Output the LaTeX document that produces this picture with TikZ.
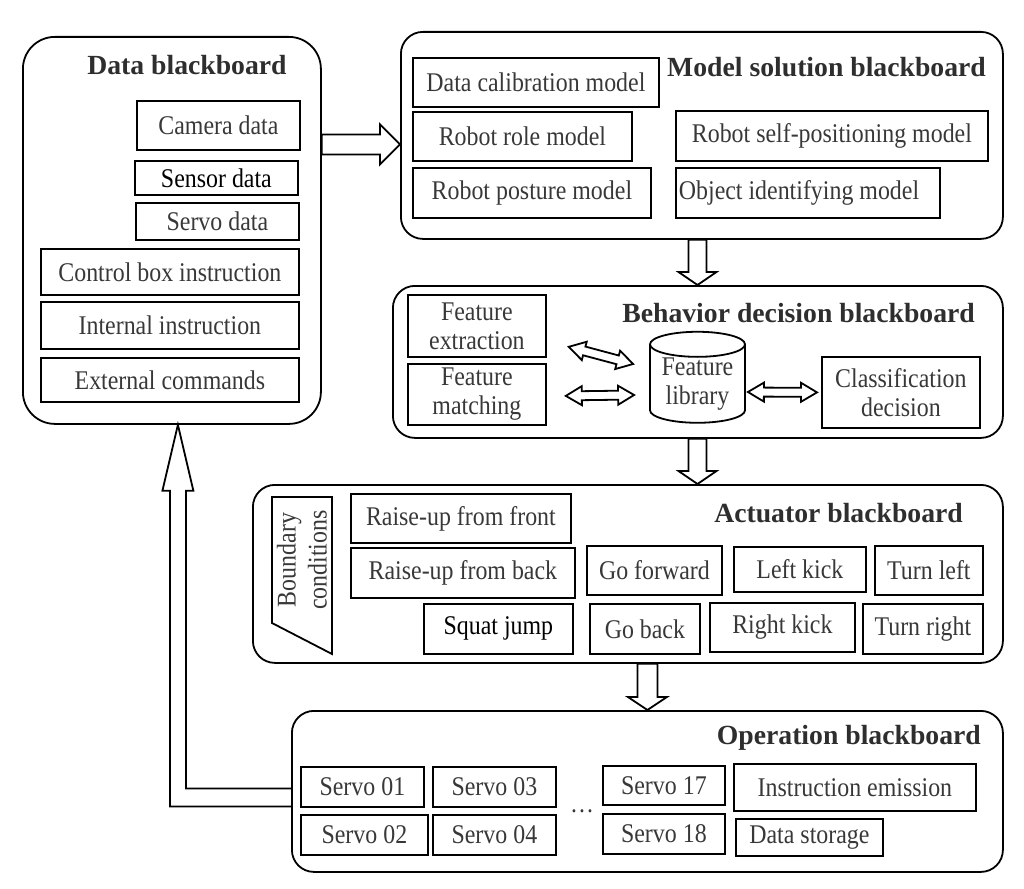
\documentclass[tikz,border=0pt]{standalone}
\usepackage{fontspec}
\setmainfont{Liberation Serif}[FakeStretch=0.885]
\newfontfamily\titlefont{Liberation Serif}
\usetikzlibrary{calc,shapes.geometric}
\colorlet{txtgray}{black!78}
\colorlet{titlegray}{black!82}

\newcommand{\hollowarrow}[5]{%
  \draw[arrowline] ($(#4)!#1!90:(#5)$) -- ($(#5)!#3!(#4)!#1!-90:(#4)$)
    -- ($(#5)!#3!(#4)!#2!-90:(#4)$) -- (#5)
    -- ($(#5)!#3!(#4)!#2!90:(#4)$) -- ($(#5)!#3!(#4)!#1!90:(#4)$)
    -- ($(#4)!#1!-90:(#5)$) -- cycle;}
\newcommand{\hollowdarrow}[5]{%
  \draw[arrowline] (#4) -- ($(#4)!#3!(#5)!#2!90:(#5)$) -- ($(#4)!#3!(#5)!#1!90:(#5)$)
    -- ($(#5)!#3!(#4)!#1!-90:(#4)$) -- ($(#5)!#3!(#4)!#2!-90:(#4)$) -- (#5)
    -- ($(#5)!#3!(#4)!#2!90:(#4)$) -- ($(#5)!#3!(#4)!#1!90:(#4)$)
    -- ($(#4)!#3!(#5)!#1!-90:(#5)$) -- ($(#4)!#3!(#5)!#2!-90:(#5)$) -- cycle;}

\begin{document}
\begin{tikzpicture}[x=1pt,y=-1pt,
    board/.style={draw,line width=1.8pt,rounded corners=22pt,anchor=north west,inner sep=0pt},
    box/.style={draw,line width=1.8pt,anchor=north west,inner sep=2pt,text=txtgray,align=center,font=\fontsize{27}{29}\selectfont},
    title/.style={text=titlegray,inner sep=0pt,font=\titlefont\bfseries\fontsize{27.7}{30}\selectfont},
    plain/.style={text=txtgray,inner sep=0pt,align=center,font=\fontsize{27}{31}\selectfont},
    arrowline/.style={draw,line width=1.8pt,fill=white}]
    \useasboundingbox (0,0) rectangle (1024,888);

    % Datentafel
    \node[board,rounded corners=32pt,minimum width=298,minimum height=387] (db) at (22,36) {};
    \node[title] (dbt) at (187,65) {Data blackboard};
    \node[box,minimum width=163,minimum height=49] (cam) at (136,100) {Camera data};
    \node[box,minimum width=163,minimum height=34,text=black] (sen) at (134,160) {Sensor data};
    \node[box,minimum width=163,minimum height=37] (srv) at (135,202) {Servo data};
    \node[box,minimum width=258,minimum height=46] (ctl) at (40,248) {Control box instruction};
    \node[box,minimum width=258,minimum height=47] (int) at (40,301) {Internal instruction};
    \node[box,minimum width=258,minimum height=44] (ext) at (40,357) {External commands};

    % Modelltafel
    \node[board,minimum width=602,minimum height=207] (mb) at (400,31) {};
    \node[title,anchor=east] (mbt) at (986,67) {Model solution blackboard};
    \node[box,minimum width=246,minimum height=49] (dcal) at (412,57) {Data calibration model};
    \node[box,minimum width=219,minimum height=49] (role) at (412,111) {Robot role model};
    \node[box,minimum width=238,minimum height=50] (post) at (412,167) {Robot posture model};
    \node[box,minimum width=312,minimum height=50] (selfp) at (675,110) {Robot self-positioning model};
    \node[box,minimum width=264,minimum height=50] (obj) at (675,167) {\makebox[258pt][l]{Object identifying model}};

    % Entscheidungstafel
    \node[board,minimum width=610,minimum height=152] (bb) at (392,285) {};
    \node[title,anchor=east] (bbt) at (975,313) {Behavior decision blackboard};
    \node[box,minimum width=138,minimum height=62] (fext) at (407,294) {Feature\\extraction};
    \node[box,minimum width=138,minimum height=61] (fmat) at (407,363) {Feature\\matching};
    \node[box,anchor=center,cylinder,shape border rotate=90,aspect=0.35,inner sep=0pt,minimum width=95,minimum height=87] (flib) at (697.5,384) {Feature\\library};
    \node[box,minimum width=158,minimum height=71] (cls) at (821,356) {Classification\\decision};

    % Aktortafel
    \node[board,minimum width=750,minimum height=178] (ab) at (252,484) {};
    \node[title,anchor=east] (abt) at (963,513) {Actuator blackboard};
    \draw[line width=1.8pt] (272,497) -- (332,497) -- (332,654) -- (272,623) -- cycle;
    \node[plain,rotate=90] (bound) at (302,560) {Boundary\\conditions};
    \node[box,minimum width=220,minimum height=49] (rfront) at (350,493) {Raise-up from front};
    \node[box,minimum width=224,minimum height=50] (rback) at (350,547) {Raise-up from back};
    \node[box,minimum width=149,minimum height=50,text=black] (squat) at (423,603) {Squat jump};
    \node[box,minimum width=135,minimum height=49] (gofw) at (586,545) {Go forward};
    \node[box,minimum width=110,minimum height=50] (gobk) at (589,603) {Go back};
    \node[box,minimum width=132,minimum height=45] (lkick) at (733,546) {Left kick};
    \node[box,minimum width=145,minimum height=49] (rkick) at (709,602) {Right kick};
    \node[box,minimum width=108,minimum height=49] (tleft) at (874,545) {Turn left};
    \node[box,minimum width=120,minimum height=50] (tright) at (862,603) {Turn right};

    % Operationstafel
    \node[board,minimum width=711,minimum height=161] (ob) at (291,710) {};
    \node[title,anchor=east] (obt) at (981,738) {Operation blackboard};
    \node[box,minimum width=123,minimum height=40] (s01) at (300,766) {Servo 01};
    \node[box,minimum width=127,minimum height=40] (s02) at (300,814) {Servo 02};
    \node[box,minimum width=123,minimum height=40] (s03) at (432,766) {Servo 03};
    \node[box,minimum width=123,minimum height=40] (s04) at (432,814) {Servo 04};
    \node[plain] (dots) at (582,811) {\dots};
    \node[box,minimum width=122,minimum height=39] (s17) at (602,765) {Servo 17};
    \node[box,minimum width=122,minimum height=40] (s18) at (602,813) {Servo 18};
    \node[box,minimum width=242,minimum height=47] (emis) at (733,763) {Instruction emission};
    \node[box,minimum width=147,minimum height=37] (stor) at (735,818) {Data storage};

    % Pfeile zwischen den Tafeln
    \coordinate (dm1) at ($(db.east |- mb.west)+(0,9)$);
    \coordinate (dm2) at ($(mb.west)+(0,9)$);
    \hollowarrow{10pt}{20pt}{20pt}{dm1}{dm2}
    \coordinate (mb1) at (mb.south -| flib);
    \coordinate (mb2) at (bb.north -| flib);
    \hollowarrow{9pt}{19pt}{13pt}{mb1}{mb2}
    \coordinate (ba1) at (bb.south -| flib);
    \coordinate (ba2) at (ab.north -| flib);
    \hollowarrow{9pt}{19pt}{13pt}{ba1}{ba2}
    \coordinate (ao1) at (ab.south -| ob.north);
    \coordinate (ao2) at (ob.north);
    \hollowarrow{10pt}{19.5pt}{13pt}{ao1}{ao2}

    % Rueckfuehrung
    \coordinate (od1) at ($(ob.west)+(0,6)$);
    \coordinate (od2) at ($(db.south)+(6,0)$);
    \draw[arrowline,fill=none] ($(od1)+(0,-9)$) -| ($(od2)+(8,66)$) -- ++(7.5,0) -- (od2)
        -- ($(od2)+(-15.5,66)$) -- ++(7.5,0) |- ($(od1)+(0,9)$);

    % Doppelpfeile
    \coordinate (fe1) at ($(fext.south east)+(22,-11)$);
    \coordinate (fe2) at ($(flib.west)+(-16,-20)$);
    \hollowdarrow{4.5pt}{9.5pt}{16pt}{fe1}{fe2}
    \coordinate (fm1) at ($(fmat.east)+(19,1.5)$);
    \coordinate (fm2) at ($(flib.west)+(-15,11)$);
    \hollowdarrow{4.5pt}{9.5pt}{16pt}{fm1}{fm2}
    \coordinate (lc1) at ($(flib.east)+(2,8)$);
    \coordinate (lc2) at ($(cls.west)+(-4,0)$);
    \hollowdarrow{4.5pt}{9.5pt}{16pt}{lc1}{lc2}
\end{tikzpicture}
\end{document}
